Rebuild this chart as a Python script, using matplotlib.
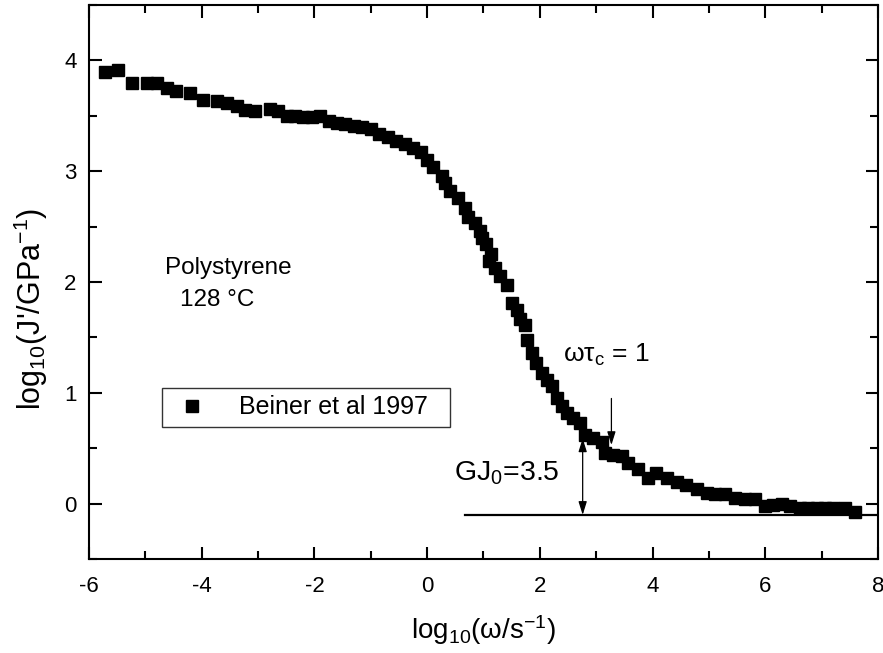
import matplotlib
matplotlib.use("Agg")
import matplotlib.pyplot as plt
import numpy as np

plt.rcParams['font.family'] = ['Liberation Sans', 'DejaVu Sans']
plt.rcParams['mathtext.fontset'] = 'custom'
plt.rcParams['mathtext.rm'] = 'Liberation Sans'
plt.rcParams['mathtext.it'] = 'Liberation Sans:italic'
plt.rcParams['axes.unicode_minus'] = False

# Beiner et al 1997, polystyrene at 128 C
log_w = [-5.72, -5.49, -5.24, -4.97, -4.80, -4.62, -4.46, -4.21, -3.97, -3.73,
         -3.56, -3.38, -3.23, -3.05, -2.79, -2.64, -2.49, -2.35, -2.20, -2.05,
         -1.90, -1.75, -1.60, -1.45, -1.30, -1.15, -1.00, -0.85, -0.70, -0.55,
         -0.40, -0.25, -0.10, 0.00, 0.10, 0.26, 0.32, 0.41, 0.55, 0.67,
         0.73, 0.85, 0.94, 0.97, 1.05, 1.14, 1.09, 1.20, 1.29, 1.41,
         1.50, 1.59, 1.65, 1.74, 1.77, 1.86, 1.94, 2.03, 2.12, 2.21,
         2.30, 2.39, 2.48, 2.59, 2.71, 2.80, 2.95, 3.10, 3.16, 3.30,
         3.45, 3.57, 3.75, 3.92, 4.07, 4.25, 4.43, 4.60, 4.78, 4.96,
         5.11, 5.28, 5.46, 5.64, 5.82, 5.99, 6.14, 6.29, 6.44, 6.62,
         6.76, 6.91, 7.06, 7.21, 7.41, 7.59]
log_J = [3.89, 3.91, 3.79, 3.79, 3.79, 3.75, 3.72, 3.70, 3.64, 3.63,
         3.61, 3.59, 3.55, 3.54, 3.56, 3.54, 3.50, 3.50, 3.49, 3.49,
         3.50, 3.45, 3.43, 3.42, 3.41, 3.40, 3.38, 3.33, 3.31, 3.27,
         3.24, 3.21, 3.17, 3.10, 3.04, 2.96, 2.89, 2.82, 2.76, 2.67,
         2.59, 2.53, 2.46, 2.40, 2.34, 2.25, 2.19, 2.13, 2.05, 1.97,
         1.81, 1.75, 1.67, 1.61, 1.48, 1.36, 1.27, 1.18, 1.12, 1.06,
         0.95, 0.88, 0.82, 0.77, 0.73, 0.62, 0.59, 0.56, 0.46, 0.44,
         0.43, 0.37, 0.31, 0.23, 0.28, 0.23, 0.20, 0.17, 0.13, 0.10,
         0.09, 0.09, 0.05, 0.04, 0.04, -0.02, -0.01, 0.00, -0.02, -0.04,
         -0.04, -0.04, -0.04, -0.04, -0.04, -0.07]

plateau_y = -0.10
plateau_x = [0.68, 8.0]
gj_x, gj_top = 2.76, 0.59
tau_x, tau_from, tau_to = 3.27, 0.95, 0.53

fig = plt.figure(figsize=(8.83, 6.53), dpi=100)
ax = fig.add_axes([0.1008, 0.1435, 0.8935, 0.8493])

ax.plot(log_w, log_J, 's', color='black', ms=9, mec='black',
        label='Beiner et al 1997')
ax.plot(plateau_x, [plateau_y, plateau_y], color='black', lw=1.6)

ax.annotate('', xy=(gj_x, plateau_y), xytext=(gj_x, gj_top),
            arrowprops=dict(arrowstyle='<|-|>,head_length=0.8,head_width=0.25',
                            color='black', lw=0.9, mutation_scale=10,
                            shrinkA=0, shrinkB=0))
ax.annotate('', xy=(tau_x, tau_to), xytext=(tau_x, tau_from),
            arrowprops=dict(arrowstyle='-|>,head_length=0.8,head_width=0.25',
                            color='black', lw=0.9, mutation_scale=10,
                            shrinkA=0, shrinkB=0))

ax.text(-4.65, 2.13, 'Polystyrene', fontsize=17.5, va='center')
ax.text(-4.38, 1.84, '128 °C', fontsize=17.5, va='center')
ax.text(2.41, 1.34, r'ωτ$_{\rm c}$ = 1', fontsize=19, va='center')
ax.text(0.48, 0.28, r'GJ$_0$=3.5', fontsize=20.5, va='center')

ax.set_xlim(-6, 8)
ax.set_ylim(-0.5, 4.5)
ax.set_xticks(np.arange(-6, 9, 2))
ax.set_xticks(np.arange(-5, 8, 2), minor=True)
ax.set_yticks(np.arange(0, 5, 1))
ax.set_yticks(np.arange(-0.5, 4.6, 1), minor=True)
ax.tick_params(which='both', direction='in', top=True, right=True,
               labelsize=16, width=1.5)
ax.tick_params(axis='x', pad=12)
ax.tick_params(axis='y', pad=9)
ax.tick_params(which='major', length=9)
ax.tick_params(which='minor', length=5.5)
for s in ax.spines.values():
    s.set_linewidth(1.5)

ax.set_xlabel(r'log$_{10}$(ω/s$^{-1}$)', fontsize=20, labelpad=12)
ax.set_ylabel(r"log$_{10}$(J'/GPa$^{-1}$)", fontsize=22)
ax.yaxis.set_label_coords(-0.050, 0.451)

leg = ax.legend(loc='upper left', bbox_to_anchor=(0.092, 0.309 - 0.07, 0.366, 0.07),
                mode='expand', fontsize=18, frameon=True, fancybox=False,
                borderpad=0.3, handletextpad=1.0, handlelength=1.8,
                borderaxespad=0)
leg.get_frame().set_edgecolor('black')
leg.get_frame().set_linewidth(1.0)

fig.savefig('out.png', dpi=100)
